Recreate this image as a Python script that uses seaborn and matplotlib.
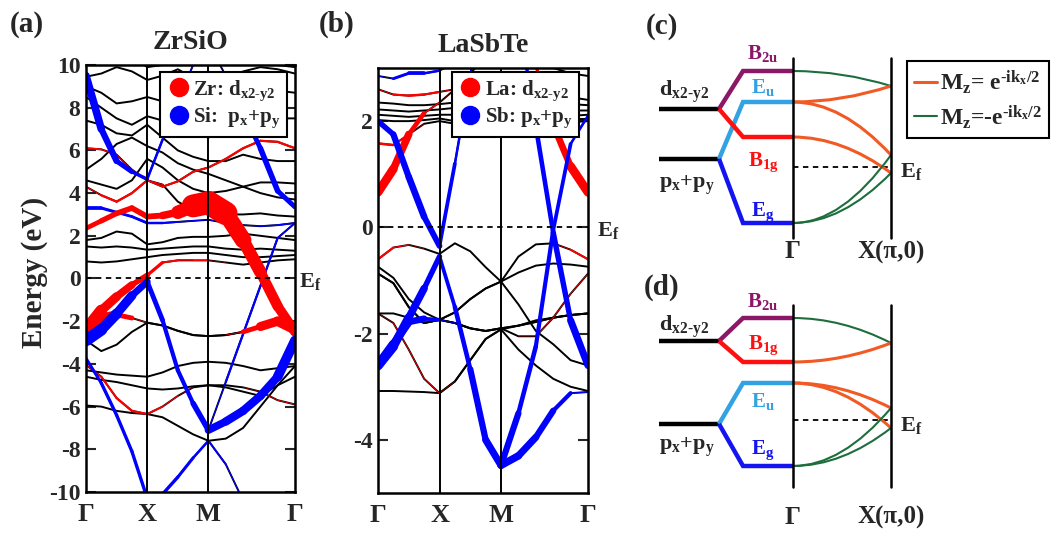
import numpy as np
import pandas as pd
import seaborn as sns
import matplotlib
matplotlib.use("Agg")
import matplotlib.pyplot as plt
from matplotlib.collections import LineCollection
from matplotlib.lines import Line2D
from matplotlib.path import Path
from matplotlib.patches import PathPatch

# ---------- k path  Γ - X - M - Γ  (|Γ-X| = 1) ----------
k_path = [0, 0.25, 0.5, 0.75, 1.0, 1.25, 1.5, 1.75, 2.0,
          2.283, 2.566, 2.849, 3.131, 3.414]
k_ticks = [0, 1, 2, 3.414]
k_labels = ['Γ', 'X', 'M', 'Γ']

# ---------- (a) ZrSiO bands (eV) ----------
a_u1 = [9.45, 9.6, 9.9, 9.7, 9.3, 9.5, 9.8, 9.4, 8.9, 9.2, 9.7, 9.9, 9.8, 9.6]
a_u2 = [9.0, 8.7, 8.2, 8.3, 8.5, 8.3, 8.0, 7.8, 7.7, 8.0, 8.5, 8.9, 8.8, 8.7]
a_u3 = [8.5, 8.0, 7.5, 7.2, 7.6, 7.4, 7.0, 6.8, 6.6, 7.0, 7.5, 7.6, 7.5, 7.5]
a_u4 = [7.4, 7.2, 6.8, 6.7, 7.2, 6.6, 6.0, 5.7, 5.5, 5.5, 5.8, 5.6, 5.5, 5.5]
a_u5 = [5.1, 5.6, 6.3, 6.6, 6.2, 5.9, 5.4, 5.1, 4.9, 4.6, 4.3, 4.0, 3.8, 3.7]
a_u6 = [4.6, 4.4, 4.2, 4.6, 5.6, 5.2, 4.6, 4.2, 4.0, 4.1, 4.3, 4.5, 4.5, 4.45]
a_u7 = [4.3, 3.9, 3.6, 4.0, 4.6, 4.4, 3.6, 3.2, 3.0, 3.0, 3.0, 3.05, 2.95, 2.9]
a_r2 = [6.1, 6.05, 5.8, 5.1, 4.6, 4.3, 4.55, 5.0, 5.2, 5.6, 6.1, 6.45, 6.4, 6.1]
a_bf2 = [9.5, 7.0, 5.5, 5.0, 4.65, 6.5, 8.3, 10.0, 11.0, 11.0, 10.5, 10.2, 10.0, 9.9]
a_bf4 = [10.5, 10.5, 10.5, 10.4, 9.9, 10.0, 10.5, 11.0, 11.0, 9.5, 7.8, 6.1, 4.1, 3.35]
a_bf3 = [3.3, 3.3, 3.1, 2.9, 2.6, 2.6, 2.65, 2.7, 2.75, 2.6, 2.5, 2.45, 2.5, 2.6]
a_rf = [2.35, 2.7, 3.05, 3.3, 2.9, 2.95, 3.1, 3.4, 3.55, 3.05, 1.8, 0.3, -1.3, -2.5]
a_m1 = [1.8, 1.9, 2.2, 2.1, 1.6, 1.7, 1.9, 1.95, 1.95, 2.0, 2.1, 2.0, 1.9, 1.8]
a_m2 = [1.5, 1.45, 1.5, 1.45, 1.35, 1.4, 1.45, 1.5, 1.5, 1.4, 1.35, 1.4, 1.35, 1.3]
a_m3 = [0.8, 0.75, 0.8, 0.9, 1.0, 1.1, 1.15, 1.2, 1.2, 1.1, 1.0, 1.0, 1.05, 1.1]
a_r1 = [-2.4, -1.5, -0.85, -0.3, 0.15, 0.75, 0.85, 0.85, 0.85, 0.75, 0.65, 0.75, 0.85, 0.9]
a_f1 = [-2.9, -2.4, -1.65, -0.8, -0.15, -1.95, -4.3, -5.85, -7.1, -6.7, -6.2, -5.5, -4.6, -2.9]
a_f2 = [-2.9, -2.4, -1.65, -0.8, -0.15, -1.95, -4.3, -5.85, -7.1, -4.85, -2.6, -0.35, 1.9, 2.6]
a_lo = [-3.74, -4.9, -6.4, -8.1, -10.3, -10.1, -9.3, -8.4, -7.6, -8.7, -10.4, -12, -12, -12]
a_c = [-4.05, -4.6, -5.6, -6.2, -6.35, -6.0, -5.5, -5.1, -5.0, -5.0, -5.1, -5.3, -5.7, -5.9]
a_d = [-2.9, -3.4, -3.1, -2.5, -2.07, -2.2, -2.45, -2.65, -2.7, -2.65, -2.5, -2.25, -2.0, -2.4]
a_d2 = [-2.4, -1.85, -1.7, -1.85, -2.07, -2.2, -2.45, -2.65, -2.7, -2.65, -2.5, -2.25, -2.0, -2.4]
a_e1 = [-4.3, -4.4, -4.5, -4.55, -4.6, -4.4, -4.1, -3.95, -3.9, -3.95, -4.1, -4.3, -4.2, -4.1]
a_e2 = [-4.6, -4.75, -4.85, -5.0, -5.15, -5.2, -5.15, -5.05, -5.0, -5.1, -5.3, -5.5, -5.0, -4.6]
a_g = [-5.95, -6.0, -6.2, -6.3, -6.35, -6.5, -6.9, -7.3, -7.6, -7.5, -7.0, -6.0, -5.0, -4.1]

# orbital weights (0..1) -> fat band width
a_rf_zr = [0.16, 0.18, 0.2, 0.2, 0.2, 0.22, 0.32, 0.65, 1.0, 0.7, 0.5, 0.4, 0.35, 0.35]
a_r1_zr = [0.5, 0.35, 0.3, 0.25, 0.15, 0.08, 0.06, 0.05, 0.03, 0, 0, 0, 0, 0]
a_r2_zr = [0.08, 0.06, 0.03, 0.02, 0.05, 0.07, 0.07, 0.07, 0.07, 0.08, 0.08, 0.08, 0.08, 0.08]
a_u7_zr = [0, 0.08, 0.08, 0.08, 0.08, 0, 0, 0, 0, 0, 0, 0, 0, 0]
a_c_zr = [0.03, 0.06, 0.08, 0.08, 0.08, 0.05, 0.03, 0, 0, 0, 0, 0.03, 0.03, 0.03]
a_d_zr = [0, 0, 0, 0, 0, 0, 0, 0, 0, 0, 0.05, 0.3, 0.35, 0.35]
a_d2_zr = [0.5, 0.35, 0.3, 0.05, 0, 0, 0, 0, 0, 0, 0, 0, 0, 0]
a_f1_si = [0.45, 0.4, 0.36, 0.3, 0.2, 0.15, 0.15, 0.15, 0.25, 0.3, 0.3, 0.3, 0.3, 0.4]
a_f2_si = [0, 0, 0, 0, 0, 0, 0, 0, 0, 0.08, 0.08, 0.08, 0.07, 0.05]
a_lo_si = [0.1, 0.12, 0.12, 0.12, 0.12, 0.12, 0.12, 0.1, 0.08, 0.05, 0.03, 0, 0, 0]
a_bf2_si = [0.3, 0.25, 0.2, 0.15, 0.1, 0.08, 0.06, 0.04, 0, 0, 0, 0, 0, 0]
a_bf4_si = [0, 0, 0, 0, 0, 0, 0, 0, 0, 0.04, 0.15, 0.2, 0.2, 0.15]
a_bf3_si = [0.15, 0.12, 0.1, 0.1, 0.1, 0.08, 0.06, 0.05, 0.03, 0.03, 0.03, 0.05, 0.06, 0.06]

# ---------- (b) LaSbTe bands (eV) ----------
b_t1 = [2.85, 2.8, 2.9, 2.9, 2.95, 3.1, 3.2, 3.3, 3.3, 3.2, 3.1, 3.0, 2.9, 2.85]
b_t2 = [2.6, 2.5, 2.48, 2.5, 2.55, 2.6, 2.65, 2.7, 2.75, 2.7, 2.6, 2.5, 2.45, 2.4]
b_t3 = [2.35, 2.33, 2.3, 2.3, 2.32, 2.35, 2.4, 2.45, 2.5, 2.45, 2.4, 2.35, 2.32, 2.3]
b_t4 = [2.22, 2.2, 2.18, 2.2, 2.22, 2.25, 2.25, 2.25, 2.25, 2.25, 2.24, 2.22, 2.2, 2.2]
b_t5 = [2.12, 2.1, 2.08, 2.1, 2.12, 2.12, 2.1, 2.1, 2.1, 2.1, 2.1, 2.1, 2.1, 2.12]
b_t6 = [2.02, 2.0, 2.0, 2.02, 2.05, 2.0, 1.98, 1.98, 1.98, 2.0, 2.02, 2.03, 2.04, 2.04]
b_rl2 = [1.58, 1.55, 1.75, 1.95, 2.0, 1.95, 1.9, 1.9, 1.9, 1.9, 1.92, 1.95, 1.98, 2.0]
b_rl = [0.66, 1.1, 1.75, 2.15, 2.35, 2.6, 2.9, 3.2, 3.5, 3.4, 3.05, 1.93, 1.15, 0.66]
b_b1 = [2.0, 1.75, 0.95, 0.2, -0.35, 1.2, 2.87, 4.5, 6.0, 4.0, 1.9, -0.1, -1.75, -2.6]
b_b2 = [-2.6, -2.24, -1.7, -1.15, -0.55, -1.5, -2.67, -4.0, -4.48, -3.5, -2.24, -0.05, 1.57, 2.1]
b_b2b = [-2.6, -2.2, -1.78, -1.72, -1.74, -1.8, -1.9, -1.95, -1.9, -1.85, -1.75, -1.7, -1.65, -1.62]
b_b4 = [-2.6, -2.24, -1.7, -1.15, -0.55, -1.5, -2.67, -4.0, -4.48, -4.3, -3.95, -3.45, -3.12, -3.1]
b_rl3 = [-0.6, -0.38, -0.33, -0.4, -0.5, -0.3, -0.45, -0.75, -1.02, -0.55, -0.32, -0.3, -0.42, -0.6]
b_k1 = [-0.74, -0.95, -1.35, -1.6, -1.74, -1.8, -1.9, -1.95, -1.9, -1.85, -1.78, -1.7, -1.65, -1.62]
b_k2 = [-0.87, -1.05, -1.5, -1.8, -1.74, -1.6, -1.35, -1.15, -1.02, -0.85, -0.72, -0.68, -0.7, -0.74]
b_k3 = [-1.62, -1.62, -1.7, -1.8, -1.74, -1.8, -1.9, -1.95, -1.9, -2.05, -2.05, -1.7, -1.25, -0.87]
b_k4 = [-1.62, -1.8, -2.3, -2.85, -3.12, -2.9, -2.5, -2.1, -1.92, -2.3, -2.6, -2.85, -3.0, -3.08]
b_k5 = [-3.08, -3.08, -3.09, -3.1, -3.12, -2.9, -2.5, -2.1, -1.92, -1.85, -1.78, -1.7, -1.65, -1.62]
b_k6 = [-0.87, -1.05, -1.5, -1.8, -1.74, -1.6, -1.35, -1.15, -1.02, -1.45, -1.95, -2.2, -2.5, -2.6]

b_rl_la = [0.55, 0.5, 0.4, 0.15, 0.03, 0, 0, 0, 0, 0, 0.08, 0.3, 0.5, 0.55]
b_rl2_la = [0.15, 0.15, 0.05, 0, 0, 0, 0, 0, 0, 0, 0, 0, 0, 0]
b_rl3_la = [0.15, 0.1, 0.05, 0, 0, 0, 0, 0, 0, 0, 0, 0, 0.08, 0.15]
b_t2_la = [0, 0.1, 0.15, 0.15, 0.1, 0, 0, 0, 0, 0, 0, 0, 0, 0]
b_k4_la = [0, 0.05, 0.05, 0.05, 0.05, 0, 0, 0, 0, 0, 0, 0, 0, 0]
b_k3_la = [0, 0, 0, 0, 0, 0, 0, 0, 0, 0, 0.05, 0.05, 0.05, 0.05]
b_t1_sb = [0, 0.1, 0.25, 0.2, 0.1, 0, 0, 0, 0, 0, 0, 0, 0, 0]
b_b1_sb = [0.3, 0.35, 0.4, 0.4, 0.3, 0.15, 0.15, 0.1, 0, 0.15, 0.25, 0.3, 0.35, 0.5]
b_b2_sb = [0.6, 0.55, 0.5, 0.4, 0.25, 0.2, 0.35, 0.4, 0.45, 0.3, 0.25, 0.25, 0.2, 0.1]
b_b2b_sb = [0.6, 0.5, 0.45, 0.35, 0.1, 0, 0, 0, 0, 0, 0, 0, 0, 0]
b_b4_sb = [0, 0, 0, 0, 0, 0, 0, 0, 0.45, 0.45, 0.4, 0.35, 0.15, 0]

# ---------- (c), (d) schematic levels (arb. units, E_f = 0) ----------
c_atomic = [5.8, 0.8]                      # d_x2-y2, p_x+p_y
c_gamma = [9.6, 6.5, 3.0, -5.6]            # B2u, Eu, B1g, Eg
c_parent = [0, 1, 0, 1]
c_gamma_names = ['$B_{2u}$', '$E_u$', '$B_{1g}$', '$E_g$']
c_x_levels = [8.1, 1.2, -0.6]
c_links = [(0, 0), (1, 0), (1, 1), (2, 2), (3, 1), (3, 2)]
c_link_sign = ['-', '+', '+', '+', '-', '-']

d_atomic = [7.9, -0.4]
d_gamma = [10.2, 5.8, 3.7, -4.6]            # B2u, B1g, Eu, Eg
d_parent = [0, 0, 1, 1]
d_gamma_names = ['$B_{2u}$', '$B_{1g}$', '$E_u$', '$E_g$']
d_x_levels = [7.7, 1.2, -0.8]
d_links = [(0, 0), (1, 0), (2, 1), (2, 2), (3, 1), (3, 2)]
d_link_sign = ['-', '+', '+', '+', '-', '-']

DXY = '$d_{x2\u2010y2}$'
MZ_LABELS = ['$M_z$= $e^{\u2010ik_x/2}$', '$M_z$=-$e^{\u2010ik_x/2}$']

# ---------- style ----------
sns.set_theme(style="ticks")
plt.rcParams.update({
    "font.family": ["Liberation Serif", "DejaVu Serif"],
    "font.weight": "bold",
    "mathtext.fontset": "custom",
    "mathtext.rm": "Liberation Serif:bold",
    "mathtext.it": "Liberation Serif:bold",
    "mathtext.bf": "Liberation Serif:bold",
    "mathtext.default": "bf",
    "axes.unicode_minus": False,
    "axes.linewidth": 1.8,
    "axes.edgecolor": "black",
})

W, H = 1053, 536
fig = plt.figure(figsize=(W / 100, H / 100), dpi=100)


def px_axes(x0, y0, x1, y1):
    return fig.add_axes([x0 / W, 1 - y1 / H, (x1 - x0) / W, (y1 - y0) / H])


RED, BLUE = '#ff0000', '#0000ff'
LEVEL_COLORS = {'$B_{2u}$': '#8b1767', '$E_u$': '#33a2e2',
                '$B_{1g}$': '#ff1010', '$E_g$': '#1414f0'}
ORANGE, GREEN = '#f15a24', '#1d6e3c'


def band_panel(ax, bands, fats, lw_max, ylim, yticks):
    rows = [(i, k, e) for i, b in enumerate(bands) for k, e in zip(k_path, b)]
    df = pd.DataFrame(rows, columns=['band', 'k', 'E'])
    sns.lineplot(data=df, x='k', y='E', units='band', estimator=None,
                 sort=False, color='black', lw=1.4, ax=ax, legend=False, zorder=2)
    for e, w, c in fats:
        pts = np.column_stack([k_path, e])
        segs = np.stack([pts[:-1], pts[1:]], axis=1)
        w = np.asarray(w, float)
        lws = (w[:-1] + w[1:]) / 2 * lw_max
        ax.add_collection(LineCollection(segs, linewidths=lws, colors=c,
                                         capstyle='round', zorder=3))
    for k in k_ticks[1:-1]:
        ax.axvline(k, color='black', lw=1.4, zorder=4)
    ax.axhline(0, color='black', lw=1.3, ls=(0, (3, 2.5)), zorder=4)
    ax.set_xlim(k_ticks[0], k_ticks[-1])
    ax.set_ylim(*ylim)
    ax.set_xticks(k_ticks, k_labels)
    ax.set_yticks(yticks)
    ax.set_xlabel('')
    ax.set_ylabel('')
    ax.tick_params(axis='x', length=0, pad=8, labelsize=19)
    ax.tick_params(axis='y', direction='in', length=7, width=1.5,
                   right=True, labelsize=17, pad=4)
    for s in ax.spines.values():
        s.set_linewidth(1.8)
        s.set_zorder(5)


def orbital_legend(ax, labels, x_right, y_top):
    handles = [Line2D([], [], ls='', marker='o', color=RED, markersize=13),
               Line2D([], [], ls='', marker='o', color=BLUE, markersize=13)]
    leg = ax.legend(handles, labels, loc='upper right',
                    bbox_to_anchor=(x_right / W, 1 - y_top / H),
                    bbox_transform=fig.transFigure, frameon=True, fancybox=False,
                    edgecolor='black', framealpha=1, fontsize=15,
                    borderpad=0.3, handletextpad=0.1, handlelength=1.2,
                    labelspacing=0.15, borderaxespad=0)
    leg.get_frame().set_linewidth(1.5)
    leg.set_zorder(10)


# ---------- (a) ----------
ax_a = px_axes(86, 65, 295, 492)
a_bands = [a_u1, a_u2, a_u3, a_u4, a_u5, a_u6, a_u7, a_r2, a_bf2, a_bf4, a_bf3,
           a_rf, a_m1, a_m2, a_m3, a_r1, a_f1, a_f2, a_lo, a_c, a_d, a_d2,
           a_e1, a_e2, a_g]
a_fats = [(a_r2, a_r2_zr, RED), (a_u7, a_u7_zr, RED), (a_c, a_c_zr, RED),
          (a_bf2, a_bf2_si, BLUE), (a_bf4, a_bf4_si, BLUE), (a_bf3, a_bf3_si, BLUE),
          (a_lo, a_lo_si, BLUE), (a_f2, a_f2_si, BLUE),
          (a_rf, a_rf_zr, RED), (a_d, a_d_zr, RED), (a_d2, a_d2_zr, RED),
          (a_r1, a_r1_zr, RED), (a_f1, a_f1_si, BLUE)]
band_panel(ax_a, a_bands, a_fats, 20, (-10, 10), range(-10, 11, 2))
orbital_legend(ax_a, ['Zr: ' + DXY, 'Si:  $p_x$+$p_y$'], 287, 72)

# ---------- (b) ----------
ax_b = px_axes(378, 68, 588, 493)
b_bands = [b_t1, b_t2, b_t3, b_t4, b_t5, b_t6, b_rl2, b_rl, b_b1, b_b2, b_b2b,
           b_b4, b_rl3, b_k1, b_k2, b_k3, b_k4, b_k5, b_k6]
b_fats = [(b_t2, b_t2_la, RED), (b_rl2, b_rl2_la, RED), (b_rl3, b_rl3_la, RED),
          (b_k4, b_k4_la, RED), (b_k3, b_k3_la, RED), (b_t1, b_t1_sb, BLUE),
          (b_rl, b_rl_la, RED), (b_b2b, b_b2b_sb, BLUE), (b_b4, b_b4_sb, BLUE),
          (b_b2, b_b2_sb, BLUE), (b_b1, b_b1_sb, BLUE)]
band_panel(ax_b, b_bands, b_fats, 12, (-5, 3), [-4, -2, 0, 2])
orbital_legend(ax_b, ['La: ' + DXY, 'Sb: $p_x$+$p_y$'], 579, 72)

# ---------- texts for (a), (b) ----------
fig.text(27 / W, 1 - 24 / H, '(a)', fontsize=21, ha='center', va='center')
fig.text(337 / W, 1 - 24 / H, '(b)', fontsize=21, ha='center', va='center')
fig.text(191 / W, 1 - 42 / H, 'ZrSiO', fontsize=20, ha='center', va='center')
fig.text(483 / W, 1 - 45 / H, 'LaSbTe', fontsize=20, ha='center', va='center')
fig.text(35 / W, 1 - 272 / H, 'Energy (eV)', fontsize=21, rotation=90,
         ha='center', va='center')
fig.text(299 / W, 1 - 281 / H, '$E_f$', fontsize=16, ha='left', va='center')
fig.text(597 / W, 1 - 230 / H, '$E_f$', fontsize=16, ha='left', va='center')

# ---------- (c), (d) schematics ----------
X_AT0, X_AT1, X_LV0 = -1.367, -0.755, -0.51


def scheme_panel(ax, atomic, gamma, parent, names, x_levels, links, signs,
                 vbar, name_y, orb_y, gx_y):
    for e in atomic:
        ax.plot([X_AT0, X_AT1], [e, e], color='black', lw=3.2,
                solid_capstyle='butt')
    for e, p, n in zip(gamma, parent, names):
        ax.plot([X_AT1, X_LV0, 0], [atomic[p], e, e], color=LEVEL_COLORS[n],
                lw=3.2, solid_capstyle='butt', solid_joinstyle='miter')
    for (gi, xi), s in zip(links, signs):
        e0, e1 = gamma[gi], x_levels[xi]
        path = Path([(0, e0), (0.5, e0), (1, e1)],
                    [Path.MOVETO, Path.CURVE3, Path.CURVE3])
        ax.add_patch(PathPatch(path, fc='none',
                               ec=ORANGE if s == '+' else GREEN,
                               lw=2.2 if s == '+' else 1.5, zorder=3))
    for xv in (0, 1):
        ax.plot([xv, xv], vbar, color='black', lw=1.8, zorder=4)
    ax.plot([0, 1], [0, 0], color='black', lw=1.3, ls=(0, (3, 2.5)), zorder=2)
    for n, y in zip(names, name_y):
        ax.text(-0.306, y, n, color=LEVEL_COLORS[n], fontsize=15,
                ha='center', va='center')
    ax.text(X_AT0, orb_y[0], DXY, fontsize=16, ha='left', va='center')
    ax.text(X_AT0, orb_y[1], '$p_x$+$p_y$', fontsize=16, ha='left', va='center')
    ax.text(0, gx_y, 'Γ', fontsize=18, ha='center', va='center')
    ax.text(1, gx_y, 'X(π,0)', fontsize=18, ha='center', va='center')
    ax.text(1.09, -0.5, '$E_f$', fontsize=16, ha='left', va='center')
    ax.set_xlim((640 - 793) / 98, (1053 - 793) / 98)
    ax.axis('off')


ax_c = px_axes(640, 40, 1053, 265)
ax_c.set_ylim((167 - 265) / 10, (167 - 40) / 10)
scheme_panel(ax_c, c_atomic, c_gamma, c_parent, c_gamma_names, c_x_levels,
             c_links, c_link_sign, [10.9, -7.1], [11.4, 8.0, 0.5, -4.5],
             [7.5, -1.8], -8.5)

ax_d = px_axes(640, 280, 1053, 530)
ax_d.set_ylim((420 - 530) / 10, (420 - 280) / 10)
scheme_panel(ax_d, d_atomic, d_gamma, d_parent, d_gamma_names, d_x_levels,
             d_links, d_link_sign, [11.5, -6.7], [11.8, 7.5, 1.8, -3.0],
             [9.3, -2.7], -9.7)

fig.text(662 / W, 1 - 26 / H, '(c)', fontsize=21, ha='center', va='center')
fig.text(662 / W, 1 - 287 / H, '(d)', fontsize=21, ha='center', va='center')

mz_handles = [Line2D([], [], color=ORANGE, lw=2.2), Line2D([], [], color=GREEN, lw=1.5)]
leg = fig.legend(mz_handles, MZ_LABELS,
                 loc='upper right', bbox_to_anchor=(1049 / W, 1 - 61 / H),
                 frameon=True, fancybox=False, edgecolor='black', framealpha=1,
                 fontsize=17, borderpad=0.3, handletextpad=0.1,
                 handlelength=1.0, labelspacing=0.3, borderaxespad=0)
leg.get_frame().set_linewidth(1.5)

fig.savefig('out.png', dpi=100)
